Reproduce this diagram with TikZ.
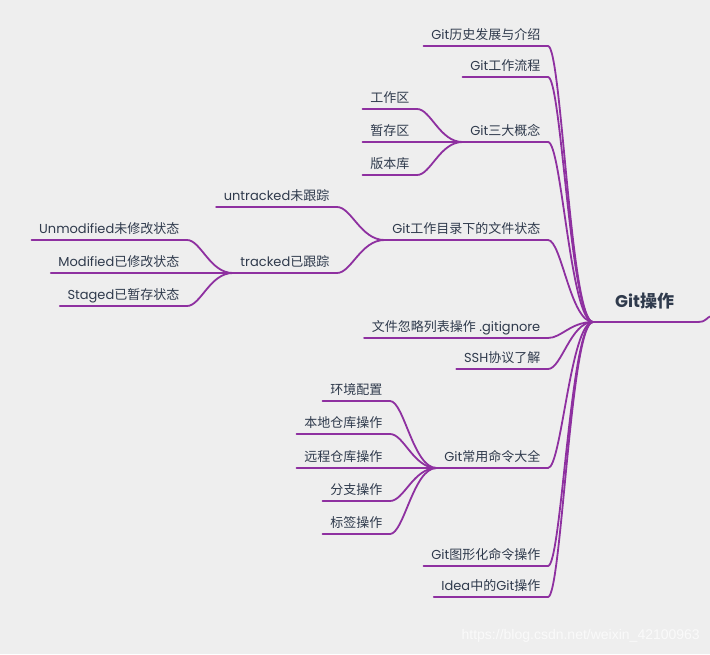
\documentclass[tikz,border=0pt]{standalone}
\usepackage{fontspec}
\setmainfont{Poppins}
\newfontfamily\cjk{Noto Sans CJK SC}
\newfontfamily\wmfont{Liberation Sans}
\usetikzlibrary{calc}
\definecolor{bg}{HTML}{EEEEEE}
\definecolor{txt}{HTML}{2F3A4C}
\definecolor{br}{HTML}{8E30A0}
\tikzset{
  topic/.style={anchor=south east, inner xsep=7.5pt, inner ysep=6.7pt, text depth=0pt,
    font=\fontsize{13}{15}\selectfont, text=txt},
  rootnode/.style={anchor=south west, inner xsep=22pt, inner ysep=14pt, text depth=0pt,
    font=\fontsize{17}{19}\selectfont\bfseries, text=txt},
  branch/.style={draw=br, line width=1.8pt, line cap=round},
}
\newcommand\uline[1]{\draw[branch] (#1.south west) -- (#1.south east);}
\newcommand\conn[2]{\draw[branch] let \p1=(#1.south east), \p2=(#2.south west) in
  (\p1) .. controls ({\x1+0.3*(\x2-\x1)},\y1) and ({\x1+0.5*(\x2-\x1)},\y2) .. (\p2);}
\begin{document}
\begin{tikzpicture}[x=1pt,y=-1pt]
\fill[bg] (0,0) rectangle (710,654);
\useasboundingbox (0,0) rectangle (710,654);

% root
\node[rootnode] (root) at (593,322) {Git{\cjk\bfseries 操作}};
\coordinate (rootend) at (712,316);

% first level
\node[topic] (b1) at (548,46) {Git{\cjk 历史发展与介绍}};
\node[topic] (b2) at (548,77) {Git{\cjk 工作流程}};
\node[topic] (b3) at (548,142) {Git{\cjk 三大概念}};
\node[topic] (b4) at (548,240) {Git{\cjk 工作目录下的文件状态}};
\node[topic] (b5) at (548,338) {{\cjk 文件忽略列表操作} .gitignore};
\node[topic] (b6) at (548,369) {SSH{\cjk 协议了解}};
\node[topic] (b7) at (548,468) {Git{\cjk 常用命令大全}};
\node[topic] (b8) at (548,566) {Git{\cjk 图形化命令操作}};
\node[topic] (b9) at (548,597) {Idea{\cjk 中的}Git{\cjk 操作}};

% children of b3
\node[topic] (c31) at (417,109) {{\cjk 工作区}};
\node[topic] (c32) at (417,142) {{\cjk 暂存区}};
\node[topic] (c33) at (417,175) {{\cjk 版本库}};

% children of b4
\node[topic] (c41) at (337,207) {untracked{\cjk 未跟踪}};
\node[topic] (c42) at (337,273) {tracked{\cjk 已跟踪}};

% children of tracked
\node[topic] (d1) at (187,240) {Unmodified{\cjk 未修改状态}};
\node[topic] (d2) at (187,273) {Modified{\cjk 已修改状态}};
\node[topic] (d3) at (187,306) {Staged{\cjk 已暂存状态}};

% children of b7
\node[topic] (c71) at (390,401) {{\cjk 环境配置}};
\node[topic] (c72) at (390,434) {{\cjk 本地仓库操作}};
\node[topic] (c73) at (390,468) {{\cjk 远程仓库操作}};
\node[topic] (c74) at (390,501) {{\cjk 分支操作}};
\node[topic] (c75) at (390,534) {{\cjk 标签操作}};

% underlines
\foreach \k in {b1,b2,b3,b4,b5,b6,b7,b8,b9,c31,c32,c33,c41,c42,d1,d2,d3,c71,c72,c73,c74,c75}{\uline{\k}}
\draw[branch] (root.south west) -- (root.south east) .. controls +(12,0) and +(-8,2) .. (rootend);

% connectors
\foreach \k in {b1,b2,b3,b4,b5,b6,b7,b8,b9}{\conn{\k}{root}}
\foreach \k in {c31,c32,c33}{\conn{\k}{b3}}
\foreach \k in {c41,c42}{\conn{\k}{b4}}
\foreach \k in {d1,d2,d3}{\conn{\k}{c42}}
\foreach \k in {c71,c72,c73,c74,c75}{\conn{\k}{b7}}

% watermark
\node[anchor=east, font=\wmfont\fontsize{14}{16}\selectfont, text=white, opacity=0.7, inner sep=0pt] (wm) at (700,636) {https://blog.csdn.net/weixin\_42100963};
\end{tikzpicture}
\end{document}
